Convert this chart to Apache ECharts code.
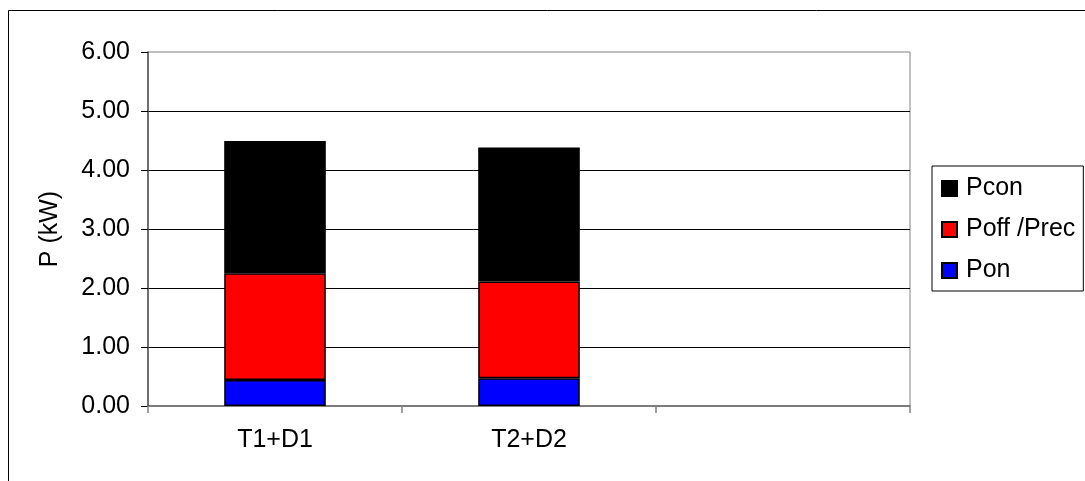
<!DOCTYPE html>
<html>
<head>
<meta charset="utf-8">
<script src="https://cdn.jsdelivr.net/npm/echarts@6/dist/echarts.min.js"></script>
<style>
  html, body { margin: 0; padding: 0; background: #fff; }
  #chart { width: 1085px; height: 481px; }
</style>
</head>
<body>
<div id="chart"></div>
<script>
// Power breakdown per configuration (kW)
const categories = ['T1+D1', 'T2+D2', ''];
const pon = [0.44, 0.47, null];
const poffPrec = [1.81, 1.64, null];
const pcon = [2.24, 2.27, null];
const yTicks = { min: 0, max: 6, interval: 1 };

const FONT = '"Liberation Sans", Arial, sans-serif';
const FS = 25;
const chart = echarts.init(document.getElementById('chart'));

const barStyle = (color) => ({ color: color, borderColor: '#000', borderWidth: 1.5 });

chart.setOption({
  animation: false,
  backgroundColor: '#fff',
  textStyle: { fontFamily: FONT, color: '#000' },
  graphic: [{
    type: 'rect',
    shape: { x: 8.5, y: 10.5, width: 1200, height: 600 },
    style: { fill: 'none', stroke: '#000', lineWidth: 1 },
    silent: true
  }],
  grid: {
    left: 148, top: 52, right: 175, bottom: 75,
    show: true, borderColor: '#808080', borderWidth: 1
  },
  legend: {
    orient: 'vertical',
    left: 932, top: 166,
    data: ['Pcon', 'Poff /Prec', 'Pon'],
    icon: 'rect',
    itemWidth: 15, itemHeight: 15,
    itemGap: 16,
    padding: [10, 8, 8, 9],
    borderColor: '#000', borderWidth: 1,
    textStyle: { fontFamily: FONT, fontSize: FS, lineHeight: 25, color: '#000', padding: [0, 0, 0, 4] }
  },
  xAxis: {
    type: 'category',
    data: categories,
    axisLine: { lineStyle: { color: '#666', width: 1.5 } },
    axisTick: { show: true, length: 7, lineStyle: { color: '#808080', width: 1.5 } },
    axisLabel: { fontFamily: FONT, fontSize: FS, color: '#000', margin: 22 }
  },
  yAxis: {
    type: 'value',
    min: yTicks.min, max: yTicks.max, interval: yTicks.interval,
    name: 'P (kW)',
    nameLocation: 'middle',
    nameGap: 85,
    nameTextStyle: { fontFamily: FONT, fontSize: FS, color: '#000' },
    axisLine: { show: true, lineStyle: { color: '#555', width: 1.5 } },
    axisTick: { show: true, length: 7, lineStyle: { color: '#000', width: 1 } },
    axisLabel: {
      fontFamily: FONT, fontSize: FS, color: '#000', margin: 18,
      formatter: (v) => v.toFixed(2)
    },
    splitLine: { show: true, showMaxLine: false, showMinLine: false, lineStyle: { color: '#000', width: 1 } }
  },
  series: [
    { name: 'Pon', type: 'bar', stack: 'p', barWidth: '40%', data: pon, itemStyle: barStyle('#0000ff') },
    { name: 'Poff /Prec', type: 'bar', stack: 'p', data: poffPrec, itemStyle: barStyle('#ff0000') },
    { name: 'Pcon', type: 'bar', stack: 'p', data: pcon, itemStyle: barStyle('#000000') }
  ]
});
</script>
</body>
</html>
